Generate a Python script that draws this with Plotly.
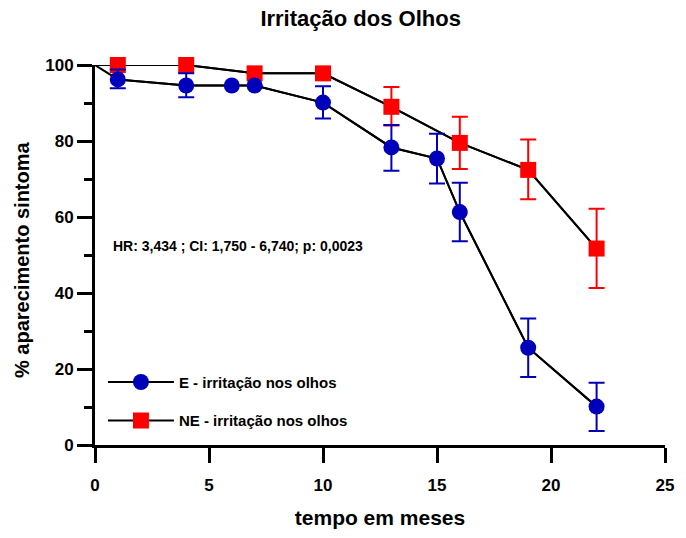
import plotly.graph_objects as go

# ---- data ----
months_E = [0, 1, 4, 6, 7, 10, 13, 15, 16, 19, 22]
pct_E = [100, 96.2, 94.6, 94.6, 94.6, 90.1, 78.3, 75.4, 61.3, 25.6, 10.1]
err_up_E = [None, 2.6, 3.2, None, None, 4.3, 5.9, 6.5, 7.7, 7.7, 6.3]
err_dn_E = [None, 2.3, 3.1, None, None, 4.2, 6.1, 6.6, 7.7, 7.7, 6.4]

months_NE = [0, 1, 4, 7, 10, 13, 16, 19, 22]
pct_NE = [100, 100, 100, 97.8, 97.8, 89.0, 79.5, 72.4, 51.7]
err_up_NE = [None, None, None, None, None, 5.2, 6.9, 8.0, 10.5]
err_dn_NE = [None, None, None, None, None, 4.9, 6.9, 7.7, 10.4]

name_E = "E - irritação nos olhos"
name_NE = "NE - irritação nos olhos"
title = "Irritação dos Olhos"
xlabel = "tempo em meses"
ylabel = "% aparecimento sintoma"
note = "HR: 3,434 ; CI: 1,750 - 6,740; p: 0,0023"
x_ticks = [0, 5, 10, 15, 20, 25]
y_ticks = [0, 20, 40, 60, 80, 100]

BLUE = "#0000BB"
RED = "#FF0000"
FONT = "Liberation Sans, Arial, sans-serif"

fig = go.Figure()
# connecting lines (including the starting point at time 0)
for xs, ys in [(months_NE, pct_NE), (months_E, pct_E)]:
    fig.add_trace(go.Scatter(x=xs, y=ys, mode="lines", showlegend=False,
                             line=dict(color="black", width=2), cliponaxis=False,
                             hoverinfo="skip"))

fig.add_trace(go.Scatter(
    x=months_NE[1:], y=pct_NE[1:], mode="lines+markers", name=name_NE,
    legendgroup="ne", legendrank=2, cliponaxis=False,
    line=dict(color="black", width=2),
    marker=dict(symbol="square", size=16, color=RED),
    error_y=dict(type="data", symmetric=False, array=err_up_NE[1:],
                 arrayminus=err_dn_NE[1:], color=RED, thickness=2, width=8),
))
fig.add_trace(go.Scatter(
    x=months_E[1:], y=pct_E[1:], mode="lines+markers", name=name_E,
    legendgroup="e", legendrank=1, cliponaxis=False,
    line=dict(color="black", width=2),
    marker=dict(symbol="circle", size=16, color=BLUE),
    error_y=dict(type="data", symmetric=False, array=err_up_E[1:],
                 arrayminus=err_dn_E[1:], color=BLUE, thickness=2, width=8),
))

axis_common = dict(showline=True, linecolor="black", linewidth=3, ticks="outside",
                   ticklen=15, tickwidth=3, tickcolor="black", showgrid=False,
                   zeroline=False,
                   tickfont=dict(family=FONT, size=17, color="black", weight="bold"))

fig.update_layout(
    width=686, height=538,
    margin=dict(l=95, r=17, t=65, b=92),
    paper_bgcolor="white", plot_bgcolor="white",
    title=dict(text=title, x=(362.5 - 95) / 574, xref="paper", y=1 - 18 / 538,
               yref="container", xanchor="center", yanchor="middle",
               font=dict(family=FONT, size=22, color="black", weight="bold")),
    xaxis=dict(range=[0, 25], tickvals=x_ticks, ticklabelstandoff=8,
               title=dict(text=xlabel, standoff=16,
                          font=dict(family=FONT, size=21, color="black", weight="bold")),
               **axis_common),
    yaxis=dict(range=[0, 100], tickvals=y_ticks, ticklabelstandoff=0,
               minor=dict(tickvals=[10, 30, 50, 70, 90], ticks="outside", ticklen=8,
                          tickwidth=3, tickcolor="black"),
               **axis_common),
    legend=dict(x=8 / 574, y=0.2085, xanchor="left", yanchor="top",
                traceorder="grouped", tracegroupgap=16, itemwidth=66,
                bgcolor="rgba(0,0,0,0)",
                font=dict(family=FONT, size=15, color="black", weight="bold")),
    showlegend=True,
)

# y-axis title
fig.add_annotation(text=ylabel, xref="paper", yref="paper", x=(22 - 95) / 574,
                   y=(446 - 260) / 381, xanchor="center", yanchor="middle",
                   textangle=-90, showarrow=False,
                   font=dict(family=FONT, size=20, color="black", weight="bold"))

fig.add_annotation(text=note, xref="paper", yref="y", x=(111 - 95) / 574, y=52.5,
                   xanchor="left", yanchor="middle", showarrow=False,
                   font=dict(family=FONT, size=14, color="black", weight="bold"))

fig.write_html("out.html")
